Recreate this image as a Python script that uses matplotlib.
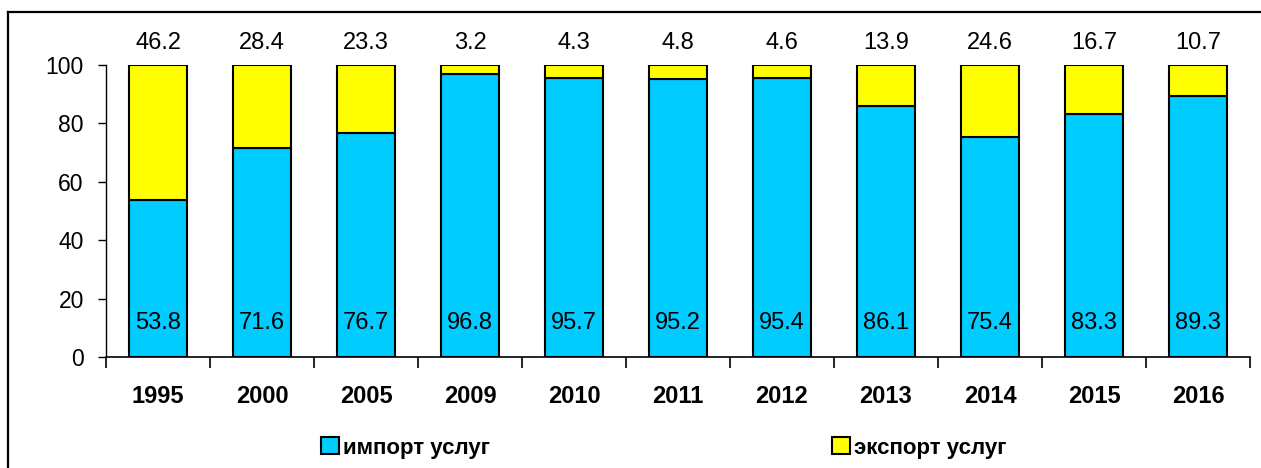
import matplotlib
matplotlib.use("Agg")
import matplotlib.pyplot as plt
from matplotlib.lines import Line2D
from matplotlib.patches import Patch
import numpy as np

plt.rcParams['font.family'] = ['Liberation Sans', 'DejaVu Sans']

years = ['1995', '2000', '2005', '2009', '2010', '2011', '2012', '2013', '2014', '2015', '2016']
imports = [53.8, 71.6, 76.7, 96.8, 95.7, 95.2, 95.4, 86.1, 75.4, 83.3, 89.3]
exports = [46.2, 28.4, 23.3, 3.2, 4.3, 4.8, 4.6, 13.9, 24.6, 16.7, 10.7]
yticks = [0, 20, 40, 60, 80, 100]
labels = ['импорт услуг', 'экспорт услуг']
c_imp = '#00CCFF'
c_exp = '#FFFF00'

fig = plt.figure(figsize=(12.61, 4.68), dpi=100)
ax = fig.add_axes([106/1261, 1-357/468, (1250-106)/1261, (357-65)/468])

x = np.arange(len(years))
w = 0.565
ax.bar(x, imports, w, color=c_imp, edgecolor='black', linewidth=1.5, zorder=3)
ax.bar(x, exports, w, bottom=imports, color=c_exp, edgecolor='black', linewidth=1.5, zorder=3)

for xi, v in zip(x, imports):
    ax.text(xi, 11.5, f'{v:.1f}', ha='center', va='center', fontsize=17, zorder=4)
for xi, v in zip(x, exports):
    ax.text(xi, 107.4, f'{v:.1f}', ha='center', va='center', fontsize=17, clip_on=False)

ax.set_xlim(-0.5, len(years) - 0.5)
ax.set_ylim(0, 100)
ax.set_yticks(yticks)
ax.tick_params(axis='y', direction='out', length=6, width=1, labelsize=16.5, pad=10)
ax.set_xticks(x)
ax.set_xticklabels(years, fontsize=17, fontweight='bold')
ax.tick_params(axis='x', which='major', length=0, pad=20)
ax.set_xticks(np.arange(-0.5, len(years), 1.0), minor=True)
ax.tick_params(axis='x', which='minor', direction='out', length=8, width=1.2)
for s in ['top', 'right']:
    ax.spines[s].set_visible(False)
ax.spines['left'].set_linewidth(1)
ax.spines['bottom'].set_linewidth(1.2)

handles = [Patch(facecolor=c_imp, edgecolor='black', linewidth=1.5),
           Patch(facecolor=c_exp, edgecolor='black', linewidth=1.5)]
fig.legend([handles[0]], [labels[0]], loc='center left', bbox_to_anchor=(321/1261, 1-448/468),
           frameon=False, prop={'weight': 'bold', 'size': 16}, handlelength=0.8, handleheight=0.8,
           handletextpad=0.2, borderaxespad=0, borderpad=0)
fig.legend([handles[1]], [labels[1]], loc='center left', bbox_to_anchor=(832/1261, 1-448/468),
           frameon=False, prop={'weight': 'bold', 'size': 16}, handlelength=0.8, handleheight=0.8,
           handletextpad=0.2, borderaxespad=0, borderpad=0)

fig.add_artist(Line2D([8/1261, 8/1261], [0, 1-12/468], transform=fig.transFigure, color='black', linewidth=1.6))
fig.add_artist(Line2D([8/1261, 1], [1-12/468, 1-12/468], transform=fig.transFigure, color='black', linewidth=1.6))

fig.savefig('out.png', dpi=100)
